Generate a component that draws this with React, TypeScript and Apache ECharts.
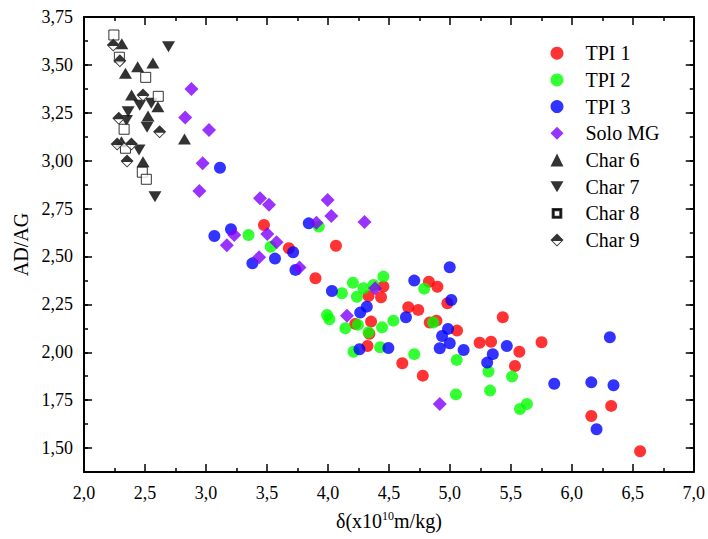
import React, { useEffect, useRef } from "react";
import * as echarts from "echarts";

const tpi1: number[][] = [
  [3.476, 2.664], [3.68, 2.543], [4.066, 2.556], [3.898, 2.386], [4.333, 2.294], [4.436, 2.287],
  [4.455, 2.343], [4.224, 2.148], [4.354, 2.16], [4.34, 2.096], [4.325, 2.033], [4.659, 2.235],
  [4.741, 2.221], [4.828, 2.368], [4.898, 2.342], [4.98, 2.256], [4.835, 2.155], [4.89, 2.165],
  [5.059, 2.113], [5.244, 2.05], [4.61, 1.943], [4.778, 1.878], [5.434, 2.183], [5.338, 2.055],
  [5.752, 2.052], [5.57, 2.003], [5.534, 1.928], [6.323, 1.72], [6.16, 1.667], [6.56, 1.483],
];
const tpi2: number[][] = [
  [3.925, 2.656], [3.349, 2.612], [3.531, 2.551], [4.115, 2.308], [4.205, 2.363], [4.238, 2.29],
  [4.292, 2.334], [4.374, 2.351], [4.455, 2.395], [3.993, 2.195], [4.012, 2.172], [4.143, 2.125],
  [4.246, 2.143], [4.444, 2.13], [4.333, 2.104], [4.537, 2.165], [4.21, 2.003], [4.428, 2.026],
  [4.79, 2.332], [4.863, 2.155], [4.708, 1.99], [5.056, 1.96], [5.05, 1.78], [5.317, 1.899],
  [5.51, 1.873], [5.33, 1.8], [5.575, 1.704], [5.632, 1.73],
];
const tpi3: number[][] = [
  [3.115, 2.963], [3.843, 2.673], [3.205, 2.642], [3.069, 2.607], [3.715, 2.522], [3.381, 2.464],
  [3.566, 2.489], [3.734, 2.43], [4.033, 2.32], [4.319, 2.238], [4.265, 2.207], [4.259, 2.016],
  [4.496, 2.022], [4.64, 2.183], [4.708, 2.374], [4.999, 2.444], [5.012, 2.273], [4.985, 2.122],
  [4.936, 2.085], [4.999, 2.047], [4.917, 2.021], [5.113, 2.012], [5.467, 2.033], [5.352, 1.99],
  [5.306, 1.946], [6.312, 2.078], [5.856, 1.836], [6.16, 1.843], [6.342, 1.828], [6.203, 1.598],
];
const soloMG: number[][] = [
  [2.881, 3.374], [2.83, 3.226], [3.025, 3.16], [2.973, 2.986], [2.946, 2.842], [3.443, 2.804],
  [3.517, 2.77], [3.998, 2.795], [4.028, 2.711], [4.3, 2.68], [3.906, 2.676], [3.232, 2.612],
  [3.171, 2.558], [3.503, 2.617], [3.579, 2.574], [3.436, 2.496], [3.767, 2.443], [4.387, 2.334],
  [4.156, 2.19], [4.917, 1.73],
];
const char6: number[][] = [
  [2.31, 3.61], [2.44, 3.49], [2.565, 3.51], [2.34, 3.456], [2.39, 3.343], [2.606, 3.282],
  [2.525, 3.233], [2.824, 3.113], [2.307, 3.099], [2.484, 2.995],
];
const char7: number[][] = [
  [2.693, 3.595], [2.457, 3.29], [2.552, 3.3], [2.362, 3.256], [2.348, 3.21], [2.517, 3.174],
  [2.451, 3.056], [2.582, 2.812],
];
const char8: number[][] = [
  [2.245, 3.656], [2.29, 3.54], [2.506, 3.435], [2.609, 3.336], [2.329, 3.164], [2.34, 3.065],
  [2.478, 2.94], [2.511, 2.903],
];
const char9: number[][] = [
  [2.24, 3.604], [2.294, 3.522], [2.484, 3.343], [2.285, 3.221], [2.62, 3.151], [2.272, 3.087],
  [2.389, 3.087], [2.353, 2.998],
];

const seriesNames = ["TPI 1", "TPI 2", "TPI 3", "Solo MG", "Char 6", "Char 7", "Char 8", "Char 9"];
const yTicks = [1.5, 1.75, 2.0, 2.25, 2.5, 2.75, 3.0, 3.25, 3.5, 3.75];

const FONT = "Liberation Serif";
const DOWN_TRI = "path://M0,0 L20,0 L10,17 Z";
const HALF_DIAMOND =
  "path://M0,10 L10,0 L20,10 Z M0,10 L20,10 L10,20 Z M3.4,11.4 L10,18 L16.6,11.4 Z";
const SMALL_SQUARE =
  "path://M-5,-5 L-5,-5 Z M25,25 L25,25 Z M0,0 L20,0 L20,20 L0,20 Z M2.5,2.5 L2.5,17.5 L17.5,17.5 L17.5,2.5 Z";

export default function App() {
  const ref = useRef<HTMLDivElement>(null);
  useEffect(() => {
    if (!ref.current) return;
    const chart = echarts.init(ref.current, undefined, { renderer: "svg" });
    const black = "#000";
    const yMin = 1.375;
    const yMax = 3.75;
    const lineStyle = { color: black, width: 2 };
    const tickStyle = { color: black, width: 1.5 };
    const fmtY = (v: number) => {
      if (Math.abs(v * 4 - Math.round(v * 4)) > 1e-6) return "";
      return v.toFixed(2).replace(".", ",");
    };
    const fmtX = (v: number) => v.toFixed(1).replace(".", ",");

    const baseX = {
      type: "value",
      min: 2,
      max: 7,
      interval: 0.5,
      axisLine: { show: true, onZero: false, lineStyle },
      axisTick: { show: true, inside: true, length: 8, lineStyle: tickStyle },
      minorTick: { show: true, splitNumber: 2, length: 4, lineStyle: tickStyle },
      splitLine: { show: false },
    };

    const option: any = {
      animation: false,
      backgroundColor: "#fff",
      textStyle: { fontFamily: FONT },
      grid: { left: 84, right: 11, top: 17, bottom: 67, containLabel: false },
      legend: {
        data: seriesNames.map((n) =>
          n === "Char 8" ? { name: n, icon: SMALL_SQUARE, itemStyle: { color: black } } : { name: n }
        ),
        orient: "vertical",
        left: 549.5,
        top: 43.2,
        padding: 0,
        itemWidth: 13,
        itemHeight: 13,
        itemGap: 6.7,
        selectedMode: false,
        textStyle: { fontFamily: FONT, fontSize: 20, color: black, padding: [0, 0, 0, 17] },
      },
      xAxis: [
        {
          ...baseX,
          position: "bottom",
          axisLabel: { show: true, formatter: fmtX, fontFamily: FONT, fontSize: 18, color: black, margin: 12 },
          name: "{a|δ(x10}{b|10}{a|m/kg)}",
          nameLocation: "middle",
          nameGap: 38,
          nameTextStyle: {
            fontFamily: FONT,
            fontSize: 20,
            color: black,
            rich: {
              a: { fontFamily: FONT, fontSize: 20, color: black },
              b: { fontFamily: FONT, fontSize: 12, color: black, verticalAlign: "bottom", padding: [0, 0, 10, 0] },
            },
          },
        },
        { ...baseX, position: "top", axisLabel: { show: false } },
      ],
      yAxis: [
        {
          type: "value",
          position: "left",
          min: yMin,
          max: yMax,
          interval: 0.125,
          axisLine: { show: true, onZero: false, lineStyle },
          axisTick: { show: true, inside: true, length: 4, lineStyle: tickStyle },
          axisLabel: { show: true, formatter: fmtY, fontFamily: FONT, fontSize: 18, color: black, margin: 11 },
          splitLine: { show: false },
          name: "AD/AG",
          nameLocation: "middle",
          nameGap: 52,
          nameTextStyle: { fontFamily: FONT, fontSize: 20, color: black },
        },
        {
          type: "value",
          position: "left",
          min: yMin,
          max: yMax,
          interval: 0.125,
          axisLine: { show: false },
          axisTick: { show: true, inside: true, length: 8, lineStyle: tickStyle, customValues: yTicks },
          axisLabel: { show: false },
          splitLine: { show: false },
        },
        {
          type: "value",
          position: "right",
          min: yMin,
          max: yMax,
          interval: 0.125,
          axisLine: { show: true, onZero: false, lineStyle },
          axisTick: { show: true, inside: true, length: 4, lineStyle: tickStyle },
          axisLabel: { show: false },
          splitLine: { show: false },
        },
        {
          type: "value",
          position: "right",
          min: yMin,
          max: yMax,
          interval: 0.125,
          axisLine: { show: false },
          axisTick: { show: true, inside: true, length: 8, lineStyle: tickStyle, customValues: yTicks },
          axisLabel: { show: false },
          splitLine: { show: false },
        },
      ],
      series: [
        { name: "TPI 1", type: "scatter", data: tpi1, symbol: "circle", symbolSize: 12, itemStyle: { color: "#ff0000" } },
        { name: "TPI 2", type: "scatter", data: tpi2, symbol: "circle", symbolSize: 12, itemStyle: { color: "#00ff00" } },
        { name: "TPI 3", type: "scatter", data: tpi3, symbol: "circle", symbolSize: 12, itemStyle: { color: "#0000ff" } },
        { name: "Solo MG", type: "scatter", data: soloMG, symbol: "diamond", symbolSize: 14, itemStyle: { color: "#8000ff" } },
        { name: "Char 6", type: "scatter", data: char6, symbol: "triangle", symbolSize: [13, 11], itemStyle: { color: black } },
        { name: "Char 7", type: "scatter", data: char7, symbol: DOWN_TRI, symbolSize: [13, 11], itemStyle: { color: black } },
        {
          name: "Char 8", type: "scatter", data: char8, symbol: "rect", symbolSize: 10,
          itemStyle: { color: "#fff", borderColor: black, borderWidth: 1 },
        },
        {
          name: "Char 9 bg", type: "scatter", data: char9, symbol: "diamond", symbolSize: 13,
          itemStyle: { color: "#fff" },
        },
        { name: "Char 9", type: "scatter", data: char9, symbol: HALF_DIAMOND, symbolSize: 13, itemStyle: { color: black } },
      ],
    };
    chart.setOption(option);
    return () => chart.dispose();
  }, []);
  return <div ref={ref} style={{ width: 708, height: 539, position: "absolute", left: 0, top: 0 }} />;
}
